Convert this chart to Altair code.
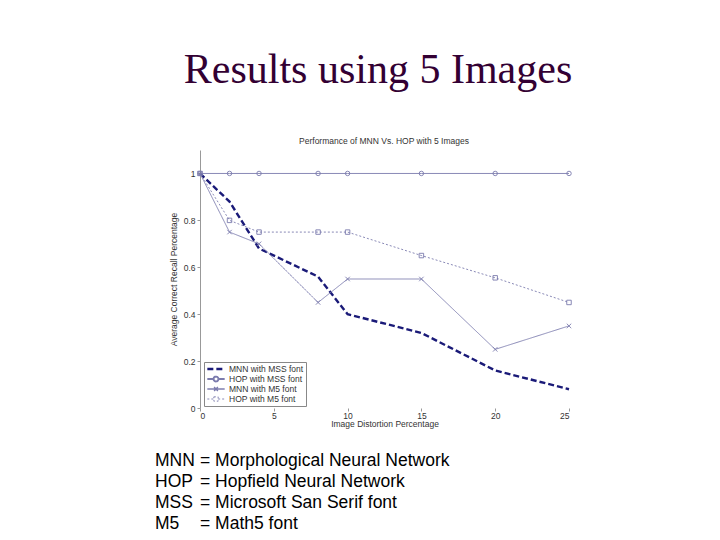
import altair as alt
import pandas as pd

# ---- data ----
distortion = [0, 2, 4, 8, 10, 15, 20, 25]
mnn_mss = [1.0, 0.88, 0.68, 0.56, 0.40, 0.32, 0.16, 0.08]
hop_mss = [1.0, 1.0, 1.0, 1.0, 1.0, 1.0, 1.0, 1.0]
mnn_m5 = [1.0, 0.75, 0.70, 0.45, 0.55, 0.55, 0.25, 0.35]
hop_m5 = [1.0, 0.80, 0.75, 0.75, 0.75, 0.65, 0.555, 0.45]

series_names = ["MNN with MSS font", "HOP with MSS font", "MNN with M5 font", "HOP with M5 font"]
series_values = [mnn_mss, hop_mss, mnn_m5, hop_m5]

slide_title = "Results using 5 Images"
plot_title = "Performance of MNN Vs. HOP with 5 Images"
x_title = "Image Distortion Percentage"
y_title = "Average Correct Recall Percentage"
x_ticks = [0, 5, 10, 15, 20, 25]
y_ticks = [0, 0.2, 0.4, 0.6, 0.8, 1.0]

abbrevs = ["MNN", "HOP", "MSS", "M5"]
meanings = ["= Morphological Neural Network", "= Hopfield Neural Network",
            "= Microsoft San Serif font", "= Math5 font"]

# ---- styles ----
navy = "#1a1a78"
grayblue = "#7c7cae"
colors = [navy, grayblue, grayblue, grayblue]
dashes = [[6, 3], [1, 0], [1, 0], [2, 2]]
widths = [2.4, 0.9, 0.9, 0.9]
legend_paths = [
    "M-1,0L1,0",
    "M-1,0L-0.28,0M0.28,0L1,0M-0.28,0A0.28,0.28 0 1,0 0.28,0A0.28,0.28 0 1,0 -0.28,0",
    "M-1,0L1,0M-0.22,-0.22L0.22,0.22M-0.22,0.22L0.22,-0.22",
    "M-1,0L-0.25,0M0.25,0L1,0M-0.25,-0.25L0.25,-0.25L0.25,0.25L-0.25,0.25Z",
]
marker_shapes = [None, "circle", "M-1,-1L1,1M-1,1L1,-1", "square"]

rows = []
for name, vals in zip(series_names, series_values):
    for xv, yv in zip(distortion, vals):
        rows.append({"x": xv, "y": yv, "series": name})
df = pd.DataFrame(rows)

FONT = "Liberation Sans"

X = alt.X("x:Q", title=x_title,
          scale=alt.Scale(domain=[0, 25], nice=False, zero=False),
          axis=alt.Axis(values=x_ticks, format="~g", grid=False, domain=False,
                        tickColor="#999", tickSize=3, labelFontSize=8.5, labelColor="#333",
                        labelFont=FONT, titleFont=FONT, titleFontSize=8.5,
                        titleFontWeight="normal", titleColor="#333", labelPadding=0,
                        titlePadding=0))
Y = alt.Y("y:Q", title=y_title,
          scale=alt.Scale(domain=[0, 1.1], nice=False),
          axis=alt.Axis(values=y_ticks, format="~g", grid=False, domain=True,
                        domainColor="#999", tickColor="#999", tickSize=3,
                        labelFontSize=8.5, labelColor="#333", labelFont=FONT,
                        titleFont=FONT, titleFontSize=8.5, titleFontWeight="normal",
                        titleColor="#333", labelPadding=2, titlePadding=5))

layers = []
for i, name in enumerate(series_names):
    sub = alt.Chart(df).transform_filter(alt.datum.series == name)
    layers.append(sub.mark_line(color=colors[i], strokeDash=dashes[i],
                                strokeWidth=widths[i]).encode(x=X, y=Y))
    if marker_shapes[i] is not None:
        layers.append(sub.mark_point(shape=marker_shapes[i], size=20, filled=False,
                                     color=colors[i], strokeWidth=0.9, opacity=1)
                      .encode(x=X, y=Y))

# legend layer (points of size 0, legend only)
leg = alt.Legend(title=None)
legend_layer = alt.Chart(df).mark_point(size=0, filled=False, opacity=1).encode(
    x=X, y=Y,
    shape=alt.Shape("series:N", scale=alt.Scale(domain=series_names, range=legend_paths), legend=leg),
    color=alt.Color("series:N", scale=alt.Scale(domain=series_names, range=colors), legend=leg),
    strokeDash=alt.StrokeDash("series:N", scale=alt.Scale(domain=series_names, range=dashes), legend=leg),
    strokeWidth=alt.StrokeWidth("series:N", scale=alt.Scale(domain=series_names, range=widths), legend=leg),
)
layers.append(legend_layer)

# texts
title_layer = alt.Chart(pd.DataFrame({"t": [slide_title]})).mark_text(
    font="Liberation Serif", fontSize=42, color="#330033", align="center",
    baseline="alphabetic").encode(text="t:N", x=alt.value(178), y=alt.value(-67))
ptitle_layer = alt.Chart(pd.DataFrame({"t": [plot_title]})).mark_text(
    font=FONT, fontSize=8.5, color="#333", align="center",
    baseline="alphabetic").encode(text="t:N", x=alt.value(184), y=alt.value(-6))
col1 = alt.Chart(pd.DataFrame({"t": ["\n".join(abbrevs)]})).mark_text(
    font=FONT, fontSize=17.5, color="black", align="left", baseline="alphabetic",
    lineBreak="\n", lineHeight=21).encode(text="t:N", x=alt.value(-45), y=alt.value(316))
col2 = alt.Chart(pd.DataFrame({"t": ["\n".join(meanings)]})).mark_text(
    font=FONT, fontSize=17.5, color="black", align="left", baseline="alphabetic",
    lineBreak="\n", lineHeight=21).encode(text="t:N", x=alt.value(0), y=alt.value(316))

layers += [title_layer, ptitle_layer, col1, col2]

chart = alt.layer(*layers).properties(
    width=369, height=258,
    autosize=alt.AutoSizeParams(type="none"),
    padding={"left": 192, "top": 142, "right": 143, "bottom": 124},
).configure_view(stroke=None).configure_legend(
    orient="none", legendX=4, legendY=212, fillColor="white", strokeColor="#888",
    padding=2, rowPadding=0, clipHeight=10, symbolSize=300, labelFontSize=8.5,
    labelFont=FONT, labelColor="#333", labelOffset=3, cornerRadius=0,
)

chart.save("out.html", embed_options={"renderer": "svg", "actions": False})
